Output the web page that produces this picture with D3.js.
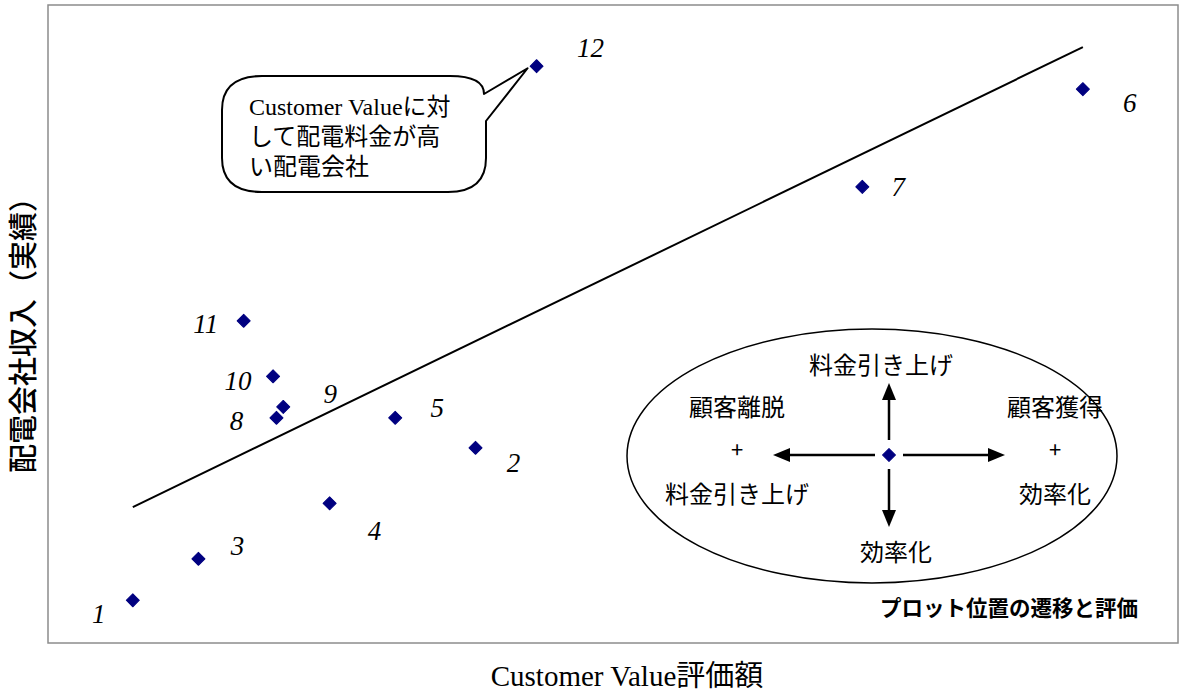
<!DOCTYPE html>
<html>
<head>
<meta charset="utf-8">
<script src="https://cdn.jsdelivr.net/npm/d3@7"></script>
<style>
  html, body { margin: 0; padding: 0; background: #fff; }
  svg { display: block; }
  .serif { font-family: 'Liberation Serif', 'Noto Sans CJK JP', serif; }
  .sans { font-family: 'Noto Sans CJK JP', sans-serif; }
</style>
</head>
<body>
<div id="chart"></div>
<script>
// ── Data ──
const companyIds = ['1','2','3','4','5','6','7','8','9','10','11','12'];
const customerValue = [7.5, 37.8, 13.3, 24.9, 30.7, 91.5, 72.0, 20.2, 20.8, 19.9, 17.3, 43.2];
const revenue       = [6.7, 30.6, 13.2, 21.9, 35.3, 86.8, 71.5, 35.3, 37.0, 41.8, 50.5, 90.4];
// label offsets (px) from each point
const labelDx = [-34, 38, 39, 45, 42, 47, 36, -40, 47, -35, -38, 54];
const labelDy = [23, 24, -4, 37, -1, 23, 9, 12, -4, 14, 12, -9];

const trendX = [7.5, 91.5];
const trendY = [21.3, 93.4];

const xTitle = 'Customer Value評価額';
const yTitle = '配電会社収入（実績）';
const calloutLines = ['Customer Valueに対', 'して配電料金が高', 'い配電会社'];
const legendCaption = 'プロット位置の遷移と評価';

const W = 1179, H = 693;
const svg = d3.select('#chart').append('svg').attr('width', W).attr('height', H);

const x = d3.scaleLinear().domain([0, 100]).range([48, 1179]);
const y = d3.scaleLinear().domain([0, 100]).range([643, 5]);

// frame
svg.append('rect').attr('x', 48).attr('y', 5).attr('width', 1130).attr('height', 638)
  .attr('fill', 'none').attr('stroke', '#8c8c8c').attr('stroke-width', 1.5);

// trend line
svg.append('line')
  .attr('x1', x(trendX[0])).attr('y1', y(trendY[0]))
  .attr('x2', x(trendX[1])).attr('y2', y(trendY[1]))
  .attr('stroke', '#000').attr('stroke-width', 2);

// callout bubble pointing at company 12
const tipX = x(customerValue[11]) - 9, tipY = y(revenue[11]) + 2;
const bubble = 'M262,76 L450,76 Q484,76 484,94 L' + tipX + ',' + tipY +
  ' L486,121 L486,158 Q486,192 448,192 L262,192 Q222,192 222,158 L222,110 Q222,76 262,76 Z';
svg.append('path').attr('d', bubble).attr('fill', '#fff')
  .attr('stroke', '#000').attr('stroke-width', 2).attr('stroke-linejoin', 'round');
calloutLines.forEach((t, i) => {
  svg.append('text').attr('class', 'serif').attr('x', 249).attr('y', 115 + i * 30)
    .style('font-size', '24px').style('fill', '#000').text(t);
});

// points
const diamond = d3.symbol().type(d3.symbolSquare).size(85);
svg.selectAll('.pt').data(companyIds).enter().append('path')
  .attr('class', 'pt')
  .attr('d', diamond)
  .attr('transform', (d, i) => 'translate(' + x(customerValue[i]) + ',' + y(revenue[i]) + ') rotate(45)')
  .attr('fill', '#000080')
  .attr('stroke', '#000080').attr('stroke-width', 1).attr('stroke-linejoin', 'round');

svg.selectAll('.lbl').data(companyIds).enter().append('text')
  .attr('class', 'lbl serif')
  .attr('x', (d, i) => x(customerValue[i]) + labelDx[i])
  .attr('y', (d, i) => y(revenue[i]) + labelDy[i])
  .attr('text-anchor', 'middle')
  .style('font-size', '27px').style('font-style', 'italic').style('fill', '#000')
  .text(d => d);

// ── Legend ellipse ──
const cx = 889, cy = 455;
svg.append('ellipse').attr('cx', 872).attr('cy', 456).attr('rx', 245).attr('ry', 127)
  .attr('fill', 'none').attr('stroke', '#000').attr('stroke-width', 1.5);

// arrows: [x1, y1, tipX, tipY]
const arrows = [
  [cx, cy - 15, cx, 383],
  [cx, cy + 14, cx, 527],
  [cx - 14, cy, 773, cy],
  [cx + 14, cy, 1005, cy]
];
const headLen = 17, headHalf = 7;
arrows.forEach(a => {
  const ang = Math.atan2(a[3] - a[1], a[2] - a[0]);
  const bx = a[2] - headLen * Math.cos(ang), by = a[3] - headLen * Math.sin(ang);
  svg.append('line').attr('x1', a[0]).attr('y1', a[1]).attr('x2', bx + Math.cos(ang)).attr('y2', by + Math.sin(ang))
    .attr('stroke', '#000').attr('stroke-width', 2.5);
  const px = -Math.sin(ang) * headHalf, py = Math.cos(ang) * headHalf;
  svg.append('path')
    .attr('d', 'M' + a[2] + ',' + a[3] + ' L' + (bx + px) + ',' + (by + py) + ' L' + (bx - px) + ',' + (by - py) + ' Z')
    .attr('fill', '#000');
});
svg.append('path').attr('d', diamond)
  .attr('transform', 'translate(' + cx + ',' + cy + ') rotate(45)')
  .attr('fill', '#000080').attr('stroke', '#000080').attr('stroke-linejoin', 'round');

const legendTexts = [
  ['料金引き上げ', 881, 374],
  ['顧客離脱', 737, 416],
  ['+', 737, 458],
  ['料金引き上げ', 737, 503],
  ['顧客獲得', 1055, 416],
  ['+', 1055, 458],
  ['効率化', 1055, 503],
  ['効率化', 896, 561]
];
legendTexts.forEach(t => {
  svg.append('text').attr('class', 'sans').attr('x', t[1]).attr('y', t[2])
    .attr('text-anchor', 'middle')
    .style('font-size', t[0] === '+' ? '22px' : '24px').style('fill', '#000').text(t[0]);
});

svg.append('text').attr('class', 'sans').attr('x', 1009).attr('y', 616)
  .attr('text-anchor', 'middle').style('font-size', '21.5px').style('font-weight', 'bold')
  .style('fill', '#000').text(legendCaption);

// ── Axis titles ──
svg.append('text').attr('class', 'serif').attr('x', 627).attr('y', 686)
  .attr('text-anchor', 'middle').style('font-size', '29px').style('fill', '#000').text(xTitle);

svg.append('text').attr('class', 'sans')
  .attr('transform', 'translate(34,328) rotate(-90)')
  .attr('text-anchor', 'middle').style('font-size', '29px').style('font-weight', '500')
  .style('fill', '#000').text(yTitle);
</script>
</body>
</html>
